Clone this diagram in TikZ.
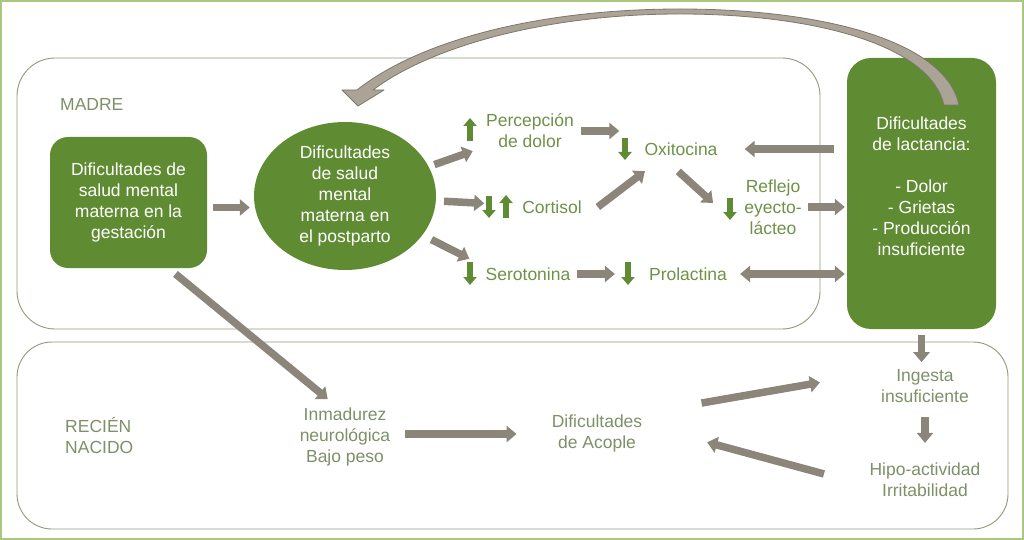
\documentclass[tikz,border=0pt]{standalone}
\usepackage{fontspec}
\setmainfont{Liberation Sans}
\usepackage{tikz}
\usetikzlibrary{arrows.meta, calc, shapes.geometric, positioning}

\definecolor{verdeosc}{HTML}{5F8C32}
\definecolor{verdetxt}{HTML}{6F9148}
\definecolor{verdegris}{HTML}{7D9068}
\definecolor{grisflecha}{HTML}{8C857A}
\definecolor{grisclaro}{HTML}{ABA396}
\definecolor{grisborde}{HTML}{7E776B}
\definecolor{marcoverde}{HTML}{8E9C7A}
\definecolor{bordeclaro}{HTML}{A9C77F}

\begin{document}
\begin{tikzpicture}[x=1pt, y=-1pt,
    font=\fontsize{17.5}{21}\selectfont,
    caja/.style={fill=verdeosc, text=white, align=center, rounded corners=18pt},
    etiqueta/.style={text=verdetxt, align=center, inner sep=1pt},
    etiquetagris/.style={etiqueta, text=verdegris},
    flecha/.style={draw=grisflecha, line width=7.5pt, -{Triangle[length=10pt, width=16pt]}},
    flechadoble/.style={flecha, {Triangle[length=10pt, width=16pt]}-{Triangle[length=10pt, width=16pt]}},
    indicador/.style={draw=verdeosc, line width=6pt, -{Triangle[length=8pt, width=13pt]}},
    marco/.style={draw=marcoverde, line width=0.9pt, rounded corners=38pt}]

      \useasboundingbox (0,0) rectangle (1024,540);

% Marcos
      \draw[bordeclaro, line width=2pt] (1,1) rectangle (1023,539);
      \draw[marco] (17,58) rectangle (820,329);
      \draw[marco, rounded corners=35pt] (17,342) rectangle (1008,529);

% Madre
      \node[etiquetagris, anchor=west] (madre) at (59,104) {MADRE};
      \node[caja, minimum width=157pt, minimum height=131pt] (gest) at (128.5,202.5) {Dificultades de\\salud mental\\materna en la\\gestación};
      \node[ellipse, fill=verdeosc, text=white, align=center, inner sep=0pt, minimum width=182pt, minimum height=148pt] (post) at (345,196) {Dificultades\\de salud\\mental\\materna en\\el postparto};
      \node[caja, rounded corners=24pt, minimum width=149pt, minimum height=271pt] (lact) at (921.5,193.5) {};
      \node[text=white, align=center] (lacttxt) at (921.5,186) {Dificultades\\de lactancia:\\[21pt]- Dolor\\- Grietas\\- Producción\\insuficiente};

      \node[etiqueta] (perc) at (530,131) {Percepción\\de dolor};
      \node[etiqueta] (oxi) at (681,149) {Oxitocina};
      \node[etiqueta] (cort) at (552,207) {Cortisol};
      \node[etiqueta] (sero) at (528,274) {Serotonina};
      \node[etiqueta] (prol) at (688,274) {Prolactina};
      \node[etiqueta] (refl) at (773,207) {Reflejo\\eyecto-\\lácteo};

% Recien nacido
      \node[etiquetagris, anchor=west, align=left] (rn) at (64,435) {RECIÉN\\NACIDO};
      \node[etiquetagris] (inm) at (345,437) {Inmadurez\\neurológica\\Bajo peso};
      \node[etiquetagris] (acop) at (597,433) {Dificultades\\de Acople};
      \node[etiquetagris] (ing) at (925,386) {Ingesta\\insuficiente};
      \node[etiquetagris] (hipo) at (925,480) {Hipo-actividad\\Irritabilidad};

% Sube / baja
      \draw[indicador] (470,141) -- (470,118);
      \draw[indicador] (625,138) -- (625,160);
      \draw[indicador] (489,196) -- (489,218);
      \draw[indicador] (506,218) -- (506,195);
      \draw[indicador] (470,262) -- (470,285);
      \draw[indicador] (628,262) -- (628,285);
      \draw[indicador] (730,198) -- (730,220);

% Flechas
      \draw[flecha, shorten <=6pt, shorten >=4pt] ([yshift=-5pt]gest.east) -- ([yshift=-5pt]gest.east -| post.west);
      \draw[flecha, shorten <=6pt, shorten >=13pt] (post) -- (perc);
      \draw[flecha, shorten <=8pt, shorten >=37pt] (post) -- (cort);
      \draw[flecha, shorten <=10pt, shorten >=17pt] (post) -- (sero.north west);
      \draw[flecha, shorten <=6pt, shorten >=24pt] (perc.east) -- (perc.east -| oxi.west);
      \draw[flecha, shorten >=24pt] ([xshift=15pt]cort.east) -- ([xshift=-17pt]oxi.south);
      \draw[flecha, shorten <=22pt] ([xshift=-19pt]oxi.south) -- ([xshift=-30pt, yshift=4pt]refl.west);
      \draw[flecha, shorten <=5pt, shorten >=2pt] (refl.east) -- (refl.east -| lact.west);
      \draw[flecha, shorten <=13pt, shorten >=26pt] (lact.west |- oxi) -- (oxi.east);
      \draw[flecha, shorten <=5pt, shorten >=33pt] (sero.east) -- (prol.west);
      \draw[flechadoble, shorten <=12pt, shorten >=2pt] (prol.east) -- (prol.east -| lact.west);

      \draw[flecha, shorten <=9pt, shorten >=12pt] ([xshift=40pt]gest.south) -- ([xshift=-8pt]inm.north);
      \draw[flecha, shorten <=6pt, shorten >=6pt] (lact.south) -- (lact.south |- ing.north);
      \draw[flecha, shorten <=14pt, shorten >=34pt] ([yshift=3pt]inm.east) -- ([yshift=3pt]inm.east -| acop.west);
      \draw[flecha, shorten <=59pt, shorten >=61pt] (acop.north east) -- ([yshift=14pt]ing.west);
      \draw[flecha, shorten <=13pt, shorten >=19pt] (ing.south) -- (ing.south |- hipo.north);
      \draw[flecha, shorten <=46pt, shorten >=66pt] ([yshift=-6pt]hipo.west) -- ([yshift=8pt]acop.east);

% Vuelta
      \filldraw[fill=grisclaro, draw=grisborde, line width=0.8pt, line join=round]
        (959,105) .. controls (945,40) and (820,9) .. (680,9)
        .. controls (540,9) and (420,40) .. (357,90)
        -- (342,90) -- (358,106) -- (384,90) -- (373,90)
        .. controls (430,47) and (545,14) .. (680,14)
        .. controls (815,14) and (930,45) .. (944,105) -- cycle;

    \end{tikzpicture}
\end{document}
